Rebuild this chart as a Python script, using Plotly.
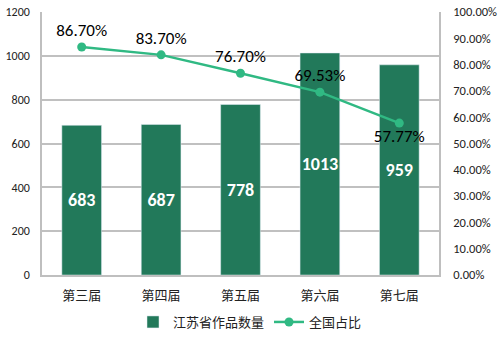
import plotly.graph_objects as go

categories = ["第三届", "第四届", "第五届", "第六届", "第七届"]
counts = [683, 687, 778, 1013, 959]
shares = [0.8670, 0.8370, 0.7670, 0.6953, 0.5777]
share_pos = ["top center", "top center", "top center", "top center", "bottom center"]

FONT = "Carlito, Liberation Sans, Noto Sans CJK SC, sans-serif"
BAR_C = "#22795a"
LINE_C = "#30b983"

fig = go.Figure()
fig.add_trace(go.Bar(
    x=categories, y=counts, name="江苏省作品数量",
    marker_color=BAR_C,
    text=[str(v) for v in counts], textposition="inside", insidetextanchor="middle",
    textangle=0,
    textfont=dict(color="white", size=18, family=FONT), texttemplate="<b>%{text}</b>",
    yaxis="y",
))
fig.add_trace(go.Scatter(
    x=categories, y=shares, name="全国占比", mode="lines+markers+text",
    line=dict(color=LINE_C, width=2.5), marker=dict(color=LINE_C, size=9),
    text=[f"{v*100:.2f}%" for v in shares], textposition=share_pos,
    textfont=dict(color="black", size=17, family=FONT),
    yaxis="y2",
))

fig.update_layout(
    width=500, height=337,
    margin=dict(l=42, r=61, t=12, b=62, autoexpand=False),
    paper_bgcolor="white", plot_bgcolor="white",
    font=dict(family=FONT, size=12, color="#222"),
    bargap=0.5,
    uniformtext=dict(minsize=18, mode="show"),
    showlegend=True,
    legend=dict(orientation="h", x=0.5, xanchor="center", xref="container",
                y=1 - 322 / 337, yanchor="middle", yref="container",
                font=dict(size=13, color="#222")),
    xaxis=dict(showline=True, linecolor="#bfbfbf", linewidth=1.5, ticks="",
               tickfont=dict(size=13), showgrid=False, ticklabelstandoff=8),
    yaxis=dict(range=[0, 1200], dtick=200, showgrid=True, gridcolor="#c0c0c0", gridwidth=1.5,
               showline=True, linecolor="#bfbfbf", linewidth=1.5, zeroline=False,
               tickfont=dict(size=12), ticks="", ticklabelstandoff=8),
    yaxis2=dict(range=[0, 1.0], dtick=0.1, tickformat=".2%", overlaying="y", side="right",
                showgrid=False, showline=True, linecolor="#bfbfbf", linewidth=1.5,
                zeroline=False, tickfont=dict(size=12.5), ticks="", ticklabelstandoff=10),
)

fig.write_html("out.html")
